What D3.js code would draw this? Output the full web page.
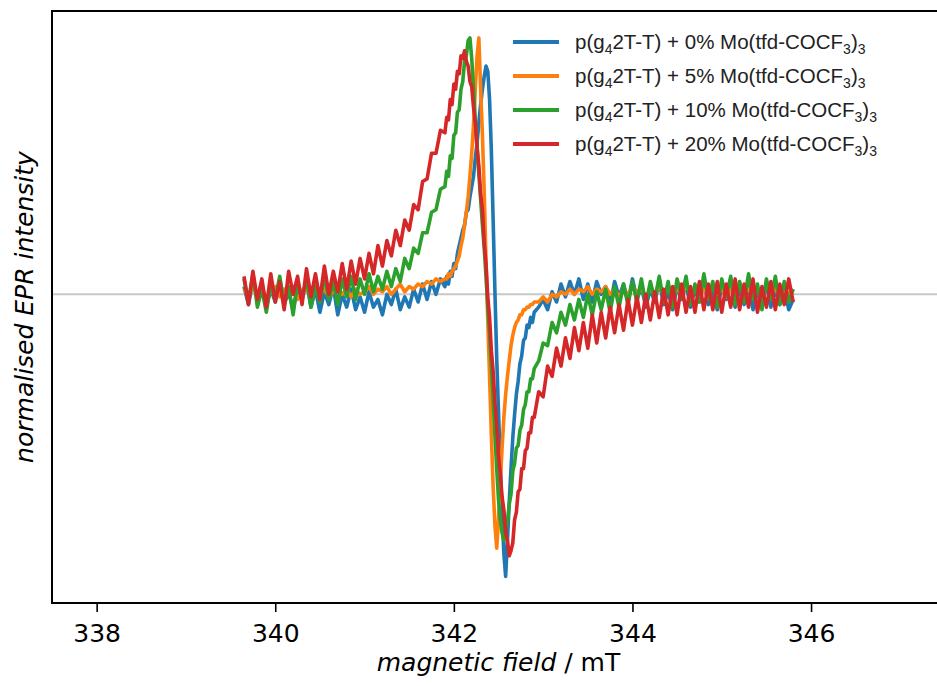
<!DOCTYPE html>
<html>
<head>
<meta charset="utf-8">
<script src="https://cdn.jsdelivr.net/npm/d3@7"></script>
<style>
  body { margin: 0; background: #fff; }
  .x-axis text { font-family: "DejaVu Sans", sans-serif; font-size: 25px; fill: #000; }
  .x-axis line { stroke: #000; stroke-width: 1.6px; }
  .axis-label { font-family: "DejaVu Sans", sans-serif; font-size: 25px; fill: #000; }
  .legend-text { font-family: "Liberation Sans", Arial, sans-serif; font-size: 20.5px; fill: #222; }
</style>
</head>
<body>
<div id="chart"></div>
<script>
// magnetic field (mT)
var field = [
  339.65,339.70,339.75,339.80,339.85,339.90,339.95,340.00,340.05,340.10,340.15,340.20,340.25,340.30,340.35,340.40,
  340.45,340.50,340.55,340.60,340.65,340.70,340.75,340.80,340.85,340.90,340.95,341.00,341.05,341.10,341.15,341.20,
  341.25,341.30,341.35,341.40,341.45,341.50,341.55,341.60,341.65,341.70,341.75,341.80,341.85,341.90,
  341.92,341.94,341.96,341.98,342.00,342.02,342.04,342.06,342.08,342.10,342.12,342.14,342.16,342.18,342.20,342.22,
  342.24,342.26,342.28,342.30,342.32,342.34,342.36,342.38,342.40,342.42,342.44,342.46,342.48,342.50,342.52,342.54,
  342.56,342.58,342.60,342.62,342.64,342.66,342.68,342.70,342.72,342.74,342.76,342.78,342.80,342.82,342.84,342.86,
  342.88,342.90,
  342.95,343.00,343.05,343.10,343.15,343.20,343.25,343.30,343.35,343.40,343.45,343.50,343.55,343.60,343.65,343.70,
  343.75,343.80,343.85,343.90,343.95,344.00,344.05,344.10,344.15,344.20,344.25,344.30,344.35,344.40,344.45,344.50,
  344.55,344.60,344.65,344.70,344.75,344.80,344.85,344.90,344.95,345.00,345.05,345.10,345.15,345.20,345.25,345.30,
  345.35,345.40,345.45,345.50,345.55,345.60,345.65,345.70,345.75,345.80
];

// normalised intensities, one list per sample
var blue0 = [
  0.03,-0.04,0.05,-0.02,0.04,-0.05,0.02,-0.03,0.06,-0.04,0.01,-0.06,0.03,-0.02,0.05,-0.05,
  0.02,-0.07,0.01,-0.04,0.03,-0.08,0.00,-0.05,0.02,-0.06,-0.01,-0.07,0.01,-0.05,-0.02,-0.08,
  0.00,-0.04,0.02,-0.06,-0.01,-0.05,0.02,-0.03,0.04,-0.02,0.05,0.00,0.06,0.03,
  0.07,0.04,0.09,0.07,0.12,0.10,0.16,0.19,0.22,0.25,0.27,0.32,0.33,0.38,0.42,0.46,
  0.53,0.59,0.67,0.74,0.80,0.85,0.89,0.87,0.76,0.56,0.29,0.01,-0.25,-0.46,-0.66,-0.86,
  -1.01,-1.10,-0.96,-0.81,-0.68,-0.56,-0.47,-0.39,-0.34,-0.27,-0.24,-0.18,-0.17,-0.12,-0.13,-0.09,
  -0.11,-0.07,
  -0.05,-0.02,-0.06,0.01,-0.03,0.04,-0.01,0.05,0.00,0.06,-0.02,0.04,-0.03,0.05,0.00,0.03,
  -0.04,0.05,-0.01,0.04,-0.03,0.06,-0.02,0.03,-0.05,0.02,-0.03,0.05,-0.04,0.01,-0.06,0.03,
  -0.02,0.04,-0.05,0.02,-0.03,0.05,-0.04,0.01,-0.06,0.03,-0.02,0.04,-0.05,0.02,-0.04,0.03,
  -0.06,0.01,-0.03,0.04,-0.05,0.02,-0.04,0.03,-0.06,-0.02
];
var orange5 = [
  0.02,-0.01,0.03,0.00,0.02,-0.02,0.01,0.03,-0.01,0.02,0.00,0.03,-0.02,0.01,0.02,-0.01,
  0.03,0.00,0.02,-0.01,0.01,0.03,0.00,0.02,-0.01,0.02,0.00,0.01,0.03,0.00,0.02,0.01,
  0.03,0.00,0.02,0.04,0.01,0.03,0.02,0.04,0.03,0.05,0.04,0.06,0.05,0.06,
  0.06,0.08,0.07,0.09,0.10,0.11,0.13,0.15,0.19,0.22,0.27,0.32,0.38,0.46,0.55,0.66,
  0.80,0.93,1.00,0.80,0.62,0.40,0.13,-0.10,-0.32,-0.55,-0.75,-0.90,-0.99,-0.88,-0.73,-0.60,
  -0.48,-0.39,-0.32,-0.26,-0.20,-0.16,-0.13,-0.11,-0.10,-0.08,-0.08,-0.06,-0.06,-0.05,-0.05,-0.04,
  -0.04,-0.03,
  -0.03,-0.01,-0.03,0.00,-0.01,0.01,0.00,0.02,0.00,0.02,0.01,0.03,0.00,0.02,0.01,0.03,
  0.00,0.02,-0.01,0.02,0.00,0.03,0.01,0.02,-0.01,0.02,0.00,0.03,0.01,0.02,-0.01,0.02,
  0.00,0.03,0.01,0.02,-0.01,0.02,0.00,0.03,0.01,0.02,-0.01,0.02,0.00,0.03,0.01,0.02,
  -0.01,0.02,0.00,0.03,0.01,0.02,-0.01,0.02,0.00,0.02
];
var green10 = [
  0.06,-0.03,0.08,-0.05,0.02,-0.07,0.04,-0.02,0.07,-0.04,0.03,-0.08,0.05,-0.01,0.06,-0.05,
  0.03,-0.03,0.07,-0.02,0.05,-0.04,0.06,-0.01,0.07,-0.02,0.06,0.00,0.08,0.01,0.07,0.02,
  0.09,0.03,0.10,0.05,0.14,0.10,0.18,0.16,0.24,0.24,0.32,0.33,0.41,0.42,
  0.48,0.46,0.54,0.53,0.62,0.63,0.71,0.72,0.80,0.83,0.91,0.93,0.99,1.00,0.92,0.80,
  0.68,0.58,0.47,0.37,0.27,0.18,0.07,-0.05,-0.15,-0.28,-0.41,-0.55,-0.68,-0.80,-0.88,-0.93,
  -0.96,-0.91,-0.89,-0.82,-0.78,-0.69,-0.66,-0.60,-0.59,-0.53,-0.51,-0.45,-0.43,-0.38,-0.38,-0.33,
  -0.33,-0.29,
  -0.26,-0.19,-0.20,-0.11,-0.15,-0.07,-0.12,-0.04,-0.10,-0.02,-0.09,0.00,-0.08,0.01,-0.06,0.02,
  -0.07,0.03,-0.05,0.04,-0.04,0.05,-0.03,0.06,-0.04,0.05,-0.02,0.07,-0.03,0.05,-0.05,0.06,
  -0.01,0.07,-0.04,0.04,-0.03,0.08,-0.02,0.05,-0.05,0.06,-0.01,0.07,-0.04,0.05,-0.03,0.08,
  -0.02,0.04,-0.06,0.06,-0.02,0.07,-0.04,0.05,-0.03,0.02
];
var red20 = [
  0.07,-0.04,0.09,-0.02,0.06,-0.05,0.08,-0.03,0.05,-0.06,0.09,0.00,0.07,-0.04,0.10,-0.01,
  0.08,-0.02,0.11,0.00,0.09,0.01,0.12,0.02,0.13,0.04,0.14,0.06,0.16,0.08,0.19,0.11,
  0.21,0.15,0.25,0.19,0.29,0.25,0.35,0.33,0.44,0.45,0.55,0.55,0.64,0.63,
  0.69,0.68,0.76,0.74,0.82,0.80,0.87,0.86,0.93,0.92,0.95,0.91,0.89,0.83,0.81,0.73,
  0.67,0.57,0.50,0.39,0.33,0.20,0.12,-0.01,-0.09,-0.22,-0.30,-0.42,-0.51,-0.63,-0.70,-0.79,
  -0.84,-0.93,-0.96,-1.02,-1.00,-0.97,-0.88,-0.85,-0.77,-0.76,-0.68,-0.68,-0.61,-0.60,-0.54,-0.54,
  -0.48,-0.48,
  -0.38,-0.40,-0.28,-0.32,-0.21,-0.28,-0.17,-0.25,-0.13,-0.22,-0.11,-0.21,-0.08,-0.19,-0.07,-0.17,
  -0.05,-0.15,-0.04,-0.14,-0.02,-0.12,-0.01,-0.11,0.00,-0.10,0.01,-0.09,0.02,-0.08,0.03,-0.08,
  0.04,-0.07,0.03,-0.07,0.05,-0.06,0.04,-0.06,0.05,-0.07,0.04,-0.05,0.06,-0.06,0.04,-0.05,
  0.06,-0.07,0.03,-0.05,0.05,-0.06,0.04,-0.04,0.06,-0.03
];

var seriesValues = [blue0, orange5, green10, red20];
var seriesPercent = ["0%", "5%", "10%", "20%"];
var seriesColors = ["#1f77b4", "#ff7f0e", "#2ca02c", "#d62728"];
var xTicks = [338, 340, 342, 344, 346];

var W = 937, H = 686;
var plotLeft = 52, plotTop = 11, plotRight = 945, plotBottom = 603;

var svg = d3.select("#chart").append("svg")
    .attr("width", W)
    .attr("height", H);

var x = d3.scaleLinear().domain([337.5, 347.5]).range([plotLeft, plotRight]);
var y = d3.scaleLinear().domain([-1.204, 1.105]).range([plotBottom, plotTop]);

svg.append("clipPath").attr("id", "plot-clip")
  .append("rect")
    .attr("x", plotLeft).attr("y", plotTop)
    .attr("width", plotRight - plotLeft).attr("height", plotBottom - plotTop);

// zero line
svg.append("line")
    .attr("x1", plotLeft).attr("x2", plotRight)
    .attr("y1", y(0)).attr("y2", y(0))
    .style("stroke", "#c8c8c8")
    .style("stroke-width", "2px");

var line = d3.line()
    .x(function(d) { return x(d[0]); })
    .y(function(d) { return y(d[1]); });

var plot = svg.append("g").attr("clip-path", "url(#plot-clip)");
seriesValues.forEach(function(vals, i) {
    var pts = field.map(function(f, j) { return [f, vals[j]]; });
    plot.append("path")
        .datum(pts)
        .attr("d", line)
        .attr("fill", "none")
        .attr("stroke", seriesColors[i])
        .attr("stroke-width", 3.6)
        .attr("stroke-linejoin", "round");
});

// frame
svg.append("rect")
    .attr("x", plotLeft).attr("y", plotTop)
    .attr("width", plotRight - plotLeft).attr("height", plotBottom - plotTop)
    .attr("fill", "none")
    .attr("stroke", "#000")
    .attr("stroke-width", 2);

// x axis
var xAxis = svg.append("g")
    .attr("class", "x-axis")
    .attr("transform", "translate(0," + plotBottom + ")")
    .call(d3.axisBottom(x).tickValues(xTicks).tickSize(9).tickPadding(12).tickFormat(d3.format("d")));
xAxis.select(".domain").remove();

svg.append("text")
    .attr("class", "axis-label")
    .attr("x", (plotLeft + plotRight) / 2)
    .attr("y", 671)
    .attr("text-anchor", "middle")
    .html('<tspan font-style="italic">magnetic field</tspan> / mT');

svg.append("text")
    .attr("class", "axis-label")
    .attr("transform", "translate(33," + ((plotTop + plotBottom) / 2) + ") rotate(-90)")
    .attr("text-anchor", "middle")
    .attr("font-style", "italic")
    .text("normalised EPR intensity");

// legend
var legend = svg.append("g").attr("transform", "translate(513,42)");
seriesPercent.forEach(function(p, i) {
    var row = legend.append("g").attr("transform", "translate(0," + (i * 34) + ")");
    row.append("line")
        .attr("x1", 0).attr("x2", 46)
        .attr("stroke", seriesColors[i])
        .attr("stroke-width", 4);
    var t = row.append("text")
        .attr("class", "legend-text")
        .attr("x", 62)
        .attr("y", 7);
    t.append("tspan").text("p(g");
    t.append("tspan").attr("dy", 5).attr("font-size", "14px").text("4");
    t.append("tspan").attr("dy", -5).text("2T-T) + " + p + " Mo(tfd-COCF");
    t.append("tspan").attr("dy", 5).attr("font-size", "14px").text("3");
    t.append("tspan").attr("dy", -5).text(")");
    t.append("tspan").attr("dy", 5).attr("font-size", "14px").text("3");
});
</script>
</body>
</html>
